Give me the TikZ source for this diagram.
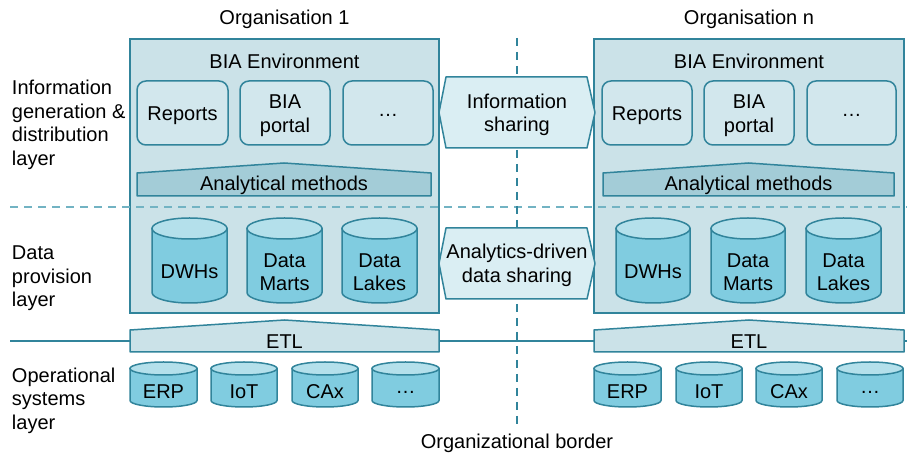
\documentclass[tikz,border=0pt]{standalone}
\usepackage{fontspec}
\setmainfont{Liberation Sans}
\definecolor{teal}{HTML}{31849B}
\definecolor{boxfill}{HTML}{CBE2E8}
\definecolor{tilefill}{HTML}{D2E7ED}
\definecolor{methfill}{HTML}{A3CCD7}
\definecolor{hexfill}{HTML}{DAEEF3}
\definecolor{cylside}{HTML}{80CCE0}
\definecolor{cyltopc}{HTML}{B4E0EB}
\definecolor{layerdash}{HTML}{72B3C3}
\tikzset{
  every node/.style={font=\fontsize{20}{23.5}\selectfont, inner sep=0pt, outer sep=0pt},
  orgbox/.style={draw=teal, fill=boxfill, line width=1.8pt},
  tilebox/.style={draw=teal, fill=tilefill, line width=1.5pt, rounded corners=9pt},
  methshape/.style={draw=teal, fill=methfill, line width=1.5pt, line join=round},
  etlshape/.style={draw=teal, fill=boxfill, line width=1.5pt, line join=round},
  hexshape/.style={draw=teal, fill=hexfill, line width=1.5pt, line join=round},
  cylbody/.style={draw=teal, fill=cylside, line width=1.5pt},
  cyltop/.style={draw=teal, fill=cyltopc, line width=1.5pt},
  txt/.style={align=center},
  borderline/.style={draw=teal, line width=2.5pt, dash pattern=on 8pt off 6pt},
  layerline/.style={draw=layerdash, line width=2pt, dash pattern=on 8pt off 6pt},
  baseline/.style={draw=teal, line width=1.5pt}
}
% database cylinder: name, left x, right x, top y, bottom y, ellipse half-height, label
\newcommand\dbcyl[7]{%
  \path[cylbody] (#2,#4-#6) -- (#2,#5+#6)
    arc[start angle=180, end angle=360, x radius={(#3-#2)/2}, y radius=#6]
    -- (#3,#4-#6) -- cycle;
  \path[cyltop] ({(#2+#3)/2},#4-#6) ellipse[x radius={(#3-#2)/2}, y radius=#6];
  \node[txt] (#1) at ({(#2+#3)/2},{(#4-2*#6+#5)/2-1}) {#7};
}
% tile with rounded corners: name, left x, right x, label
\newcommand\tile[4]{%
  \node[tilebox, minimum width={(#3-#2)*1pt}, minimum height=64pt]
    (#1) at ({(#2+#3)/2},341) {};
  \node[txt] (#1-text) at ({(#2+#3)/2},338.5) {#4};
}
\begin{document}
\begin{tikzpicture}[x=1pt, y=1pt]
\useasboundingbox[fill=white] (0,0) rectangle (907,454);

% operational base line behind the ETL blocks
\draw[baseline] (10,113) -- (907,113);

% organisation frames
\node[orgbox, minimum width=309pt, minimum height=274pt] (org1) at (284.5,278) {};
\node[orgbox, minimum width=310pt, minimum height=274pt] (orgn) at (749,278) {};

% layer separator and organisational border
\draw[layerline] (10,247) -- (907,247);
\draw[borderline] (517,416) -- (517,27);

% headings
\node (h1) at (284.5,435) {Organisation 1};
\node (hn) at (749,435) {Organisation n};
\node (border) at (517,11) {Organizational border};

% layer labels
\node[anchor=west, align=left] (lay1) at (12,329) {Information\\generation \&\\distribution\\layer};
\node[anchor=west, align=left] (lay2) at (12,175.5) {Data\\provision\\layer};
\node[anchor=west, align=left] (lay3) at (12,53.5) {Operational\\systems\\layer};

% sharing connectors between organisations
\path[hexshape] (439,341.5) -- (446,377) -- (587,377) -- (595,341.5) -- (587,306) -- (446,306) -- cycle;
\node[txt] (infoshare) at (517,339) {Information\\sharing};
\path[hexshape] (439,190.5) -- (446,226) -- (587,226) -- (595,190.5) -- (587,155) -- (446,155) -- cycle;
\node[txt] (datashare) at (517,188.5) {Analytics-driven\\data sharing};

% ---- organisation 1 ----
\node (env1) at (284.5,393) {BIA Environment};
\tile{rep1}{137}{228}{Reports}
\tile{por1}{240}{330}{BIA\\portal}
\tile{etc1}{343}{433}{\dots}
\path[methshape] (137,258) -- (137,281) -- (284,291) -- (431,281) -- (431,258) -- cycle;
\node (meth1) at (284,269) {Analytical methods};
\dbcyl{dwh1}{152}{227}{236}{151}{10.5}{DWHs}
\dbcyl{dm1}{247}{322}{236}{151}{10.5}{Data\\Marts}
\dbcyl{dl1}{342}{417}{236}{151}{10.5}{Data\\Lakes}
\path[etlshape] (130,102) -- (130,124) -- (284.5,134) -- (439,124) -- (439,102) -- cycle;
\node (etl1) at (284.5,112.5) {ETL};
\dbcyl{erp1}{130}{197}{92}{47}{6.5}{ERP}
\dbcyl{iot1}{211}{277}{92}{47}{6.5}{IoT}
\dbcyl{cax1}{292}{358}{92}{47}{6.5}{CAx}
\dbcyl{oth1}{372}{439}{92}{47}{6.5}{\dots}

% ---- organisation n ----
\node (envn) at (749,393) {BIA Environment};
\tile{repn}{602}{692}{Reports}
\tile{porn}{704}{794}{BIA\\portal}
\tile{etcn}{807}{896}{\dots}
\path[methshape] (603,258) -- (603,281) -- (748.5,291) -- (894,281) -- (894,258) -- cycle;
\node (methn) at (748.5,269) {Analytical methods};
\dbcyl{dwhn}{616}{690}{236}{151}{10.5}{DWHs}
\dbcyl{dmn}{711}{785}{236}{151}{10.5}{Data\\Marts}
\dbcyl{dln}{806}{881}{236}{151}{10.5}{Data\\Lakes}
\path[etlshape] (594,102) -- (594,124) -- (749,134) -- (904,124) -- (904,102) -- cycle;
\node (etln) at (749,112.5) {ETL};
\dbcyl{erpn}{594}{661}{92}{47}{6.5}{ERP}
\dbcyl{iotn}{676}{742}{92}{47}{6.5}{IoT}
\dbcyl{caxn}{756}{822}{92}{47}{6.5}{CAx}
\dbcyl{othn}{837}{903}{92}{47}{6.5}{\dots}
\end{tikzpicture}
\end{document}
